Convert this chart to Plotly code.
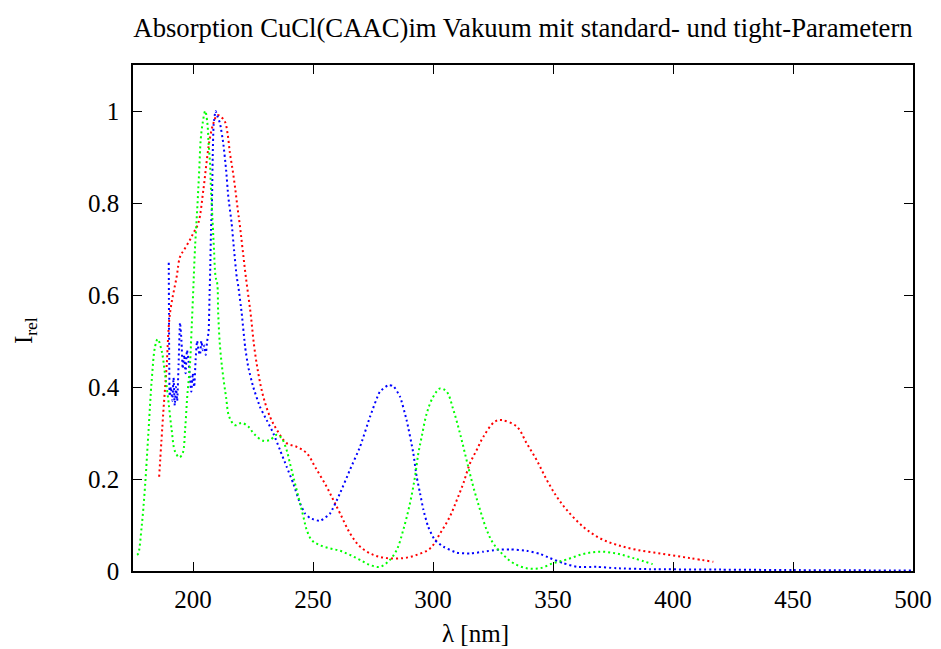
import plotly.graph_objects as go

# ---- data ----
red_x = [185.9, 187.6, 189.0, 190.4, 193.2, 194.6, 196.5, 198.75, 200.1, 202.2, 204.3, 205.6, 206.7,
         208.3, 210.1, 211.5, 213.3, 214.4, 215.4, 216.5, 217.5, 218.5, 219.6, 220.7, 222.0, 224.0,
         225.5, 227.2, 229.3, 232.1, 234.9, 239.0, 243.2, 247.4, 251.0, 255.7, 258.5, 261.3, 265.4,
         269.6, 275.1, 280.7, 287.6, 293.2, 298.8, 303.0, 307.0, 309.9, 312.6, 315.4, 318.2, 321.0,
         325.8, 328.6, 334.9, 339.0, 343.2, 347.4, 351.5, 355.7, 362.6, 369.6, 376.5, 384.9, 396.0,
         407.0, 416.8]
red_y = [0.205, 0.343, 0.444, 0.56, 0.64, 0.683, 0.70, 0.72, 0.734, 0.756, 0.828, 0.886, 0.93,
         0.97, 0.991, 0.988, 0.977, 0.951, 0.908, 0.872, 0.835, 0.792, 0.748, 0.698, 0.64, 0.56,
         0.488, 0.43, 0.379, 0.335, 0.307, 0.278, 0.27, 0.256, 0.225, 0.183, 0.154, 0.125, 0.082,
         0.053, 0.035, 0.028, 0.028, 0.035, 0.049, 0.082, 0.118, 0.154, 0.19, 0.234, 0.263, 0.292,
         0.325, 0.328, 0.314, 0.278, 0.241, 0.198, 0.162, 0.133, 0.096, 0.071, 0.057, 0.046, 0.037,
         0.028, 0.02]

blue_x = [189.9, 190.0, 190.1, 190.3, 190.8, 191.4, 191.9, 192.4, 192.9, 193.4, 194.0, 194.6, 195.2,
          195.7, 196.3, 196.9, 197.5, 198.1, 198.7, 199.3, 199.9, 200.5, 201.1, 201.7, 202.3, 202.9,
          203.5, 204.1, 204.7, 205.3, 205.9, 206.5, 206.9, 207.2, 207.5, 207.9, 208.2, 208.6, 209.4,
          210.1, 211.25, 212.6, 213.8, 214.7, 216.1, 217.1, 218.2, 218.9, 220.3, 221.7, 223.0, 225.1,
          227.9, 230.7, 233.5, 236.25, 239.0, 241.8, 244.6, 246.7, 248.75, 252.9, 257.1, 261.25,
          265.4, 269.6, 273.75, 277.9, 281.4, 283.5, 286.25, 289.0, 291.8, 293.2, 294.6, 296.0, 298.0,
          300.8, 304.3, 309.9, 315.4, 321.0, 326.5, 332.0, 339.0, 344.6, 348.75, 354.3, 359.9, 368.2,
          376.5, 390.4, 420.0, 450.0, 500.0]
blue_y = [0.67, 0.55, 0.45, 0.38, 0.40, 0.37, 0.42, 0.36, 0.40, 0.37, 0.45, 0.54, 0.50,
          0.44, 0.47, 0.43, 0.48, 0.46, 0.42, 0.39, 0.43, 0.40, 0.46, 0.50, 0.48, 0.47,
          0.50, 0.48, 0.49, 0.47, 0.50, 0.52, 0.60, 0.66, 0.74, 0.80, 0.90, 0.97, 1.0,
          0.99, 0.973, 0.93, 0.872, 0.814, 0.756, 0.698, 0.64, 0.618, 0.56, 0.488, 0.444, 0.40,
          0.357, 0.328, 0.299, 0.263, 0.227, 0.19, 0.147, 0.125, 0.115, 0.109, 0.125, 0.169,
          0.22, 0.27, 0.335, 0.39, 0.404, 0.402, 0.379, 0.328, 0.256, 0.205, 0.169, 0.133, 0.096,
          0.067, 0.053, 0.04, 0.038, 0.042, 0.046, 0.047, 0.044, 0.037, 0.028, 0.017, 0.009, 0.009,
          0.006, 0.004, 0.003, 0.002, 0.001]

green_x = [176.7, 177.2, 178.6, 180.0, 181.4, 182.8, 184.2, 185.3, 187.0, 188.3, 189.7, 191.1, 192.5,
           194.3, 195.7, 196.7, 197.6, 198.75, 199.4, 200.1, 200.8, 201.9, 202.6, 203.2, 204.0, 205.1,
           206.0, 206.5, 207.1, 207.5, 208.2, 208.75, 209.4, 210.1, 210.5, 211.25, 212.4, 213.75, 215.1,
           217.5, 220.3, 223.0, 225.8, 229.3, 232.1, 234.9, 237.0, 239.0, 240.4, 241.8, 243.2, 244.6,
           246.0, 247.4, 249.5, 252.5, 257.1, 261.25, 265.4, 269.6, 273.75, 277.9, 282.0, 284.9, 287.6,
           290.4, 292.5, 293.9, 295.3, 297.4, 300.1, 303.0, 305.7, 308.5, 311.25, 314.0, 316.8, 319.6,
           322.4, 325.1, 329.3, 333.5, 339.0, 344.6, 350.1, 355.7, 362.6, 369.6, 376.5, 383.5, 391.5]
green_y = [0.035, 0.038, 0.096, 0.183, 0.299, 0.415, 0.488, 0.504, 0.477, 0.43, 0.372, 0.307, 0.26,
           0.247, 0.256, 0.307, 0.379, 0.45, 0.524, 0.61, 0.698, 0.8, 0.872, 0.937, 0.973, 1.0,
           0.973, 0.93, 0.886, 0.828, 0.756, 0.698, 0.64, 0.625, 0.56, 0.488, 0.43, 0.379, 0.335,
           0.317, 0.322, 0.314, 0.296, 0.283, 0.285, 0.296, 0.288, 0.263, 0.234, 0.205, 0.176, 0.147,
           0.118, 0.089, 0.067, 0.057, 0.049, 0.044, 0.035, 0.024, 0.013, 0.009, 0.024, 0.046, 0.089,
           0.147, 0.205, 0.256, 0.292, 0.343, 0.379, 0.397, 0.39, 0.35, 0.299, 0.241, 0.183, 0.133,
           0.089, 0.06, 0.035, 0.017, 0.006, 0.006, 0.017, 0.025, 0.037, 0.042, 0.038, 0.028, 0.015]

x_ticks = [200, 250, 300, 350, 400, 450, 500]
y_ticks = [0, 0.2, 0.4, 0.6, 0.8, 1]
y_tick_labels = ["0", "0.2", "0.4", "0.6", "0.8", "1"]

title_text = "Absorption CuCl(CAAC)im Vakuum mit standard- und tight-Parametern"
x_title = "λ [nm]"
y_title = "I<sub>rel</sub>"

FONT = "Liberation Serif, DejaVu Serif, serif"

fig = go.Figure()
for xs, ys, col, sm in [(red_x, red_y, "#ff0000", 1.0), (blue_x, blue_y, "#0000ff", 0.5),
                        (green_x, green_y, "#00ff00", 1.0)]:
    fig.add_trace(go.Scatter(x=xs, y=ys, mode="lines",
                             line=dict(color=col, width=2, dash="2px,3px", shape="spline", smoothing=sm),
                             showlegend=False, hoverinfo="skip"))

axis_common = dict(showgrid=False, zeroline=False, showline=True, linecolor="black", linewidth=1.5,
                   mirror="ticks", ticks="inside", ticklen=9, tickwidth=1, tickcolor="black",
                   automargin=False,
                   tickfont=dict(family=FONT, size=25, color="black"))

fig.update_layout(
    width=941, height=649,
    margin=dict(l=133, r=28, t=65, b=78),
    paper_bgcolor="white", plot_bgcolor="white",
    font=dict(family=FONT, color="black"),
    title=dict(text=title_text, x=0.5558, xanchor="center", y=0.958, yanchor="middle",
               font=dict(family=FONT, size=26.7, color="black")),
    xaxis=dict(range=[175, 500], tickvals=x_ticks, ticklabelstandoff=5, **axis_common),
    yaxis=dict(range=[0, 1.1], tickvals=y_ticks, ticktext=y_tick_labels, ticklabelstandoff=7,
               **axis_common),
    annotations=[
        dict(text=x_title, xref="paper", yref="paper", x=0.4385, y=-0.124, xanchor="center",
             yanchor="middle", showarrow=False, font=dict(family=FONT, size=25, color="black")),
        dict(text=y_title, xref="paper", yref="paper", x=-0.1385, y=0.476, xanchor="center",
             yanchor="middle", textangle=-90, showarrow=False,
             font=dict(family=FONT, size=25, color="black")),
    ],
)

fig.write_html("out.html")
